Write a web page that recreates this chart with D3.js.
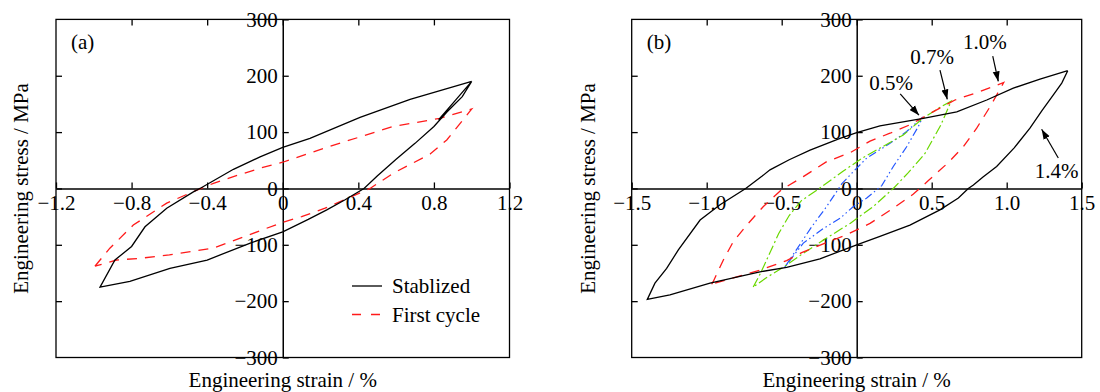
<!DOCTYPE html>
<html>
<head>
<meta charset="utf-8">
<script src="https://cdn.jsdelivr.net/npm/d3@7"></script>
<style>
  body { margin: 0; background: #fff; }
  svg { display: block; }
  text { font-family: "Liberation Serif", "Times New Roman", serif; fill: #000; }
</style>
</head>
<body>
<svg id="chart" width="1100" height="392"></svg>
<script>
// ---------- data: [engineering strain %, engineering stress MPa] ----------
// (a) 1.0 % strain amplitude
const stabilizedA = [
  [0.825, 122], [0.91, 155], [1.0, 190],
  [0.95, 163], [0.87, 136], [0.80, 110], [0.70, 80], [0.60, 52], [0.50, 22], [0.43, 0],
  [0.33, -20], [0.233, -38], [0.135, -55], [0.0, -77], [-0.172, -97], [-0.40, -127],
  [-0.597, -142], [-0.809, -165], [-0.967, -175],
  [-0.888, -127], [-0.80, -103], [-0.729, -68], [-0.614, -35], [-0.473, -6], [-0.438, 0],
  [-0.261, 34], [-0.12, 56], [0.0, 73], [0.144, 89], [0.409, 126], [0.674, 158], [1.0, 190]
];
const firstCycleA = [
  [-0.994, -138], [-0.915, -106], [-0.791, -65], [-0.614, -26], [-0.455, -3], [-0.367, 9],
  [-0.261, 21], [-0.12, 36], [0.0, 46.5], [0.233, 73], [0.585, 110], [0.833, 124.5], [1.0, 141],
  [0.868, 86], [0.78, 61], [0.585, 27], [0.462, 0], [0.224, -35], [0.1, -50], [0.0, -60],
  [-0.2, -85], [-0.367, -106], [-0.6, -118], [-0.756, -124], [-0.879, -127], [-0.994, -138]
];

// (b) stabilized loops at four strain amplitudes
const loop14 = [
  [1.407, 209], [1.367, 187], [1.311, 166], [1.235, 138], [1.155, 107], [1.05, 72], [0.933, 39],
  [0.84, 20], [0.778, 6], [0.744, 0], [0.678, -17], [0.555, -38], [0.355, -65], [0.155, -85],
  [0.0, -100], [-0.245, -125], [-0.467, -140], [-0.645, -148], [-0.978, -168], [-1.245, -189],
  [-1.396, -197], [-1.345, -168], [-1.267, -142], [-1.189, -109], [-1.044, -56], [-0.911, -29],
  [-0.74, 0], [-0.63, 22], [-0.578, 33], [-0.45, 51], [-0.311, 68], [-0.111, 89], [0.0, 99],
  [0.155, 111], [0.444, 124.5], [0.667, 136], [0.867, 157], [1.044, 178], [1.222, 194], [1.407, 209]
];
const loop10 = [
  [-0.967, -170], [-0.956, -165], [-0.889, -127], [-0.822, -94], [-0.733, -65], [-0.622, -32],
  [-0.5, -2], [-0.356, 21], [-0.2, 47.6], [-0.044, 63.5], [0.089, 84], [0.222, 98], [0.355, 113],
  [0.489, 133], [0.655, 157], [0.822, 172], [0.98, 188],
  [0.889, 145], [0.8, 107], [0.711, 74], [0.611, 46], [0.478, 14], [0.378, -10], [0.244, -35],
  [0.089, -62], [-0.067, -82], [-0.2, -96], [-0.367, -114], [-0.467, -128], [-0.645, -145],
  [-0.8, -157], [-0.967, -170]
];
const loop07 = [
  [-0.69, -175], [-0.64, -150], [-0.58, -115], [-0.52, -80], [-0.45, -48], [-0.37, -22],
  [-0.25, 0], [-0.089, 31], [0.044, 55], [0.178, 75], [0.311, 95], [0.444, 125], [0.55, 143],
  [0.63, 155],
  [0.56, 112], [0.455, 62], [0.344, 28], [0.244, 0], [0.111, -32], [-0.044, -62], [-0.2, -88],
  [-0.356, -115], [-0.49, -140], [-0.6, -158], [-0.69, -175]
];
const loop05 = [
  [-0.48, -140], [-0.4, -108], [-0.3, -68], [-0.2, -32], [-0.1, 8], [-0.022, 30], [0.067, 54],
  [0.222, 80], [0.333, 101], [0.44, 127],
  [0.411, 110], [0.333, 74], [0.244, 39], [0.167, 5], [0.067, -17], [-0.022, -32],
  [-0.111, -53], [-0.222, -71], [-0.356, -97], [-0.4, -112], [-0.48, -140]
];

const strainTicksA = [-1.2, -0.8, -0.4, 0, 0.4, 0.8, 1.2];
const strainTicksB = [-1.5, -1.0, -0.5, 0, 0.5, 1.0, 1.5];
const stressTicks = [-300, -200, -100, 0, 100, 200, 300];
const legendNames = ["Stablized", "First cycle"];
const panelTags = ["(a)", "(b)"];

// amplitude labels in panel (b): text anchor, arrow tail, arrow head (data units)
const ampLabels = ["0.5%", "0.7%", "1.0%", "1.4%"];
const ampTextAt = [[0.229, 187], [0.502, 234], [0.855, 260], [1.332, 31]];
const ampTail = [[0.29, 168], [0.555, 210], [0.907, 235], [1.344, 54]];
const ampHead = [[0.415, 130], [0.604, 158], [0.944, 190], [1.233, 105]];

// ---------- layout ----------
const svg = d3.select("#chart");
const TOP = 19.4, BOTTOM = 357.5;
const FS = 21;

svg.append("defs").append("marker")
  .attr("id", "arrowHead")
  .attr("viewBox", "0 -4 10 8")
  .attr("refX", 10).attr("refY", 0)
  .attr("markerWidth", 10).attr("markerHeight", 8)
  .attr("markerUnits", "userSpaceOnUse")
  .attr("orient", "auto")
  .append("path").attr("d", "M0,-3.5L10,0L0,3.5Z").attr("fill", "#000");

const fmtStrain = v => v === 0 ? "0" : d3.format(".1f")(v);
const fmtStress = d3.format("d");

function drawPanel(left, right, domain, xTicks, tag, yTitleX) {
  const x = d3.scaleLinear().domain(domain).range([left, right]);
  const y = d3.scaleLinear().domain([-300, 300]).range([BOTTOM, TOP]);
  const g = svg.append("g");

  // frame
  g.append("rect")
    .attr("x", left).attr("y", TOP)
    .attr("width", right - left).attr("height", BOTTOM - TOP)
    .attr("fill", "none").attr("stroke", "#000").attr("stroke-width", 1.3);

  // inward mirror ticks on the top and left edges
  const topTicks = g.append("g").attr("transform", `translate(0,${TOP})`)
    .call(d3.axisTop(x).tickValues(xTicks.slice(1, -1)).tickSizeInner(-6).tickSizeOuter(0).tickFormat(""));
  topTicks.select(".domain").remove();
  const leftTicks = g.append("g").attr("transform", `translate(${left},0)`)
    .call(d3.axisLeft(y).tickValues(stressTicks.slice(1, -1)).tickSizeInner(-6).tickSizeOuter(0).tickFormat(""));
  leftTicks.select(".domain").remove();

  // strain axis through zero stress
  const xAxis = g.append("g").attr("transform", `translate(0,${y(0)})`)
    .call(d3.axisBottom(x).tickValues(xTicks).tickSizeInner(-6).tickSizeOuter(0)
      .tickPadding(7).tickFormat(fmtStrain));
  // stress axis through zero strain
  const yAxis = g.append("g").attr("transform", `translate(${x(0)},0)`)
    .call(d3.axisLeft(y).tickValues(stressTicks).tickSizeInner(-6).tickSizeOuter(0)
      .tickPadding(5).tickFormat(fmtStress));

  [xAxis, yAxis, topTicks, leftTicks].forEach(a => {
    a.attr("font-family", null).attr("font-size", null);
    a.selectAll("line").attr("stroke", "#000").attr("stroke-width", 1.3);
    a.selectAll(".domain").attr("stroke", "#000").attr("stroke-width", 1.5);
    a.selectAll("text").style("font-size", FS + "px").attr("fill", "#000");
  });

  // axis titles
  g.append("text")
    .attr("x", x(0)).attr("y", 387)
    .attr("text-anchor", "middle")
    .style("font-size", FS + "px")
    .text("Engineering strain / %");
  g.append("text")
    .attr("transform", `translate(${yTitleX},${(TOP + BOTTOM) / 2}) rotate(-90)`)
    .attr("text-anchor", "middle")
    .attr("dy", "0.35em")
    .style("font-size", FS + "px")
    .text("Engineering stress / MPa");

  g.append("text")
    .attr("x", left + 15).attr("y", 42).attr("dy", "0.35em")
    .style("font-size", FS + "px")
    .text(tag);

  return { g, x, y };
}

function drawLoop(p, data, color, dash, width) {
  const line = d3.line().x(d => p.x(d[0])).y(d => p.y(d[1]));
  p.g.append("path")
    .datum(data)
    .attr("d", line)
    .attr("fill", "none")
    .attr("stroke", color)
    .attr("stroke-width", width)
    .attr("stroke-linejoin", "miter")
    .attr("stroke-dasharray", dash);
}

const RED = "#ff1a1a", GREEN = "#6ad800", BLUE = "#2457ff";
const DASH = "10,8", DASHDOT = "10,3,2,3", DASHDOTDOT = "8,3,1.5,3,1.5,3";

// ---------- panel (a) ----------
const pa = drawPanel(56, 509.5, [-1.2, 1.2], strainTicksA, panelTags[0], 21);
drawLoop(pa, firstCycleA, RED, DASH, 1.3);
drawLoop(pa, stabilizedA, "#000", null, 1.3);

const legend = pa.g.append("g").attr("transform", "translate(352,286)");
legendNames.forEach((name, i) => {
  const row = legend.append("g").attr("transform", `translate(0,${i * 28.5})`);
  row.append("line")
    .attr("x1", 0).attr("x2", 30).attr("y1", 0).attr("y2", 0)
    .attr("stroke", i === 0 ? "#000" : RED)
    .attr("stroke-width", 1.3)
    .attr("stroke-dasharray", i === 0 ? null : "9,10");
  row.append("text")
    .attr("x", 40).attr("y", 0).attr("dy", "0.35em")
    .style("font-size", FS + "px")
    .text(name);
});

// ---------- panel (b) ----------
const pb = drawPanel(631.7, 1081.7, [-1.5, 1.5], strainTicksB, panelTags[1], 588);
drawLoop(pb, loop05, BLUE, DASHDOTDOT, 1.2);
drawLoop(pb, loop07, GREEN, DASHDOT, 1.2);
drawLoop(pb, loop10, RED, DASH, 1.3);
drawLoop(pb, loop14, "#000", null, 1.3);

ampLabels.forEach((lab, i) => {
  pb.g.append("text")
    .attr("x", pb.x(ampTextAt[i][0])).attr("y", pb.y(ampTextAt[i][1]))
    .attr("text-anchor", "middle").attr("dy", "0.35em")
    .style("font-size", FS + "px")
    .text(lab);
  pb.g.append("line")
    .attr("x1", pb.x(ampTail[i][0])).attr("y1", pb.y(ampTail[i][1]))
    .attr("x2", pb.x(ampHead[i][0])).attr("y2", pb.y(ampHead[i][1]))
    .attr("stroke", "#000").attr("stroke-width", 1.2)
    .attr("marker-end", "url(#arrowHead)");
});
</script>
</body>
</html>
